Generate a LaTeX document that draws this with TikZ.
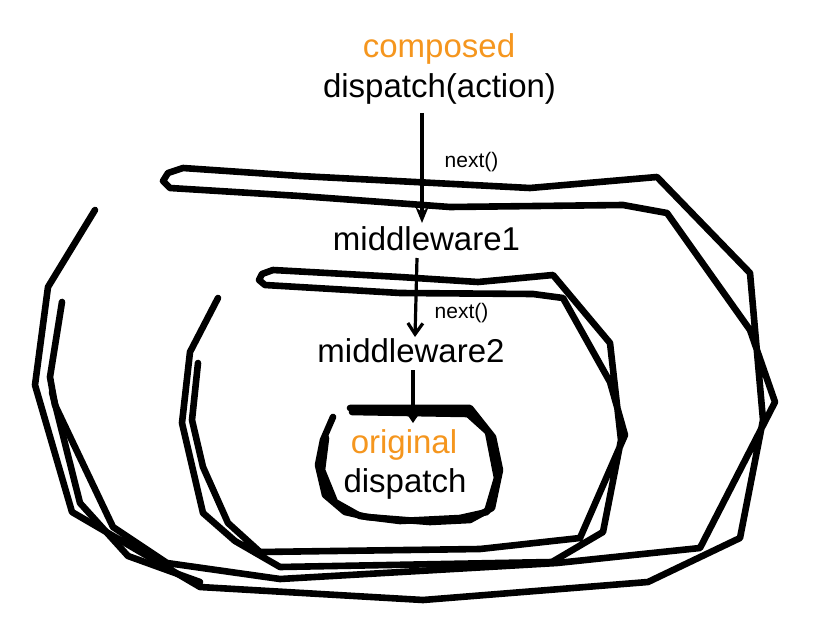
\documentclass[tikz,border=0pt]{standalone}
\usepackage{fontspec}
\setmainfont{Liberation Sans}
\usetikzlibrary{arrows.meta}
\definecolor{accent}{RGB}{245,150,30}
\begin{document}
\begin{tikzpicture}[x=1pt,y=-1pt,
  scribble/.style={line width=6.6pt,line join=round,line cap=round},
  biglabel/.style={font=\fontsize{33}{36}\selectfont,inner sep=0pt,anchor=base},
  smalllabel/.style={font=\fontsize{21}{24}\selectfont,inner sep=0pt,anchor=base},
  flow/.style={line width=3.2pt,-{Stealth[length=16pt,width=13pt]}},
  flowopen/.style={line width=3.2pt,-{Straight Barb[length=11pt,width=15pt,line width=3.2pt]}},
]
\useasboundingbox[fill=white] (0,0) rectangle (829,623);

% outer spiral
\draw[scribble] (95,210) -- (48,287) -- (35,385) -- (72,512) -- (120,540) -- (200,587)
  -- (423,600) -- (648,582) -- (740,538) -- (763,420) -- (750,273) -- (657,177)
  -- (530,188) -- (300,176) -- (183,168) -- (168,173) -- (163,181) -- (170,188)
  -- (300,196) -- (450,207) -- (623,205) -- (667,213) -- (750,330) -- (775,402)
  -- (700,548) -- (557,563) -- (280,579) -- (167,563) -- (113,527) -- (55,405)
  -- (50,377) -- (62,302);
\draw[scribble] (52,392) -- (80,503) -- (128,556) -- (200,582);

% middle spiral
\draw[scribble] (218,298) -- (190,352) -- (182,423) -- (203,513) -- (235,541)
  -- (280,567) -- (552,562) -- (603,532) -- (621,440) -- (610,343) -- (553,275)
  -- (478,282) -- (400,277) -- (273,270) -- (262,274) -- (259,280) -- (265,285)
  -- (400,293) -- (533,294) -- (563,298) -- (610,382) -- (625,435) -- (580,538)
  -- (480,549) -- (260,552) -- (228,523) -- (203,467) -- (192,420) -- (198,363);

% inner loop
\draw[scribble] (333,417) -- (323,440) -- (318,465) -- (325,495) -- (345,512)
  -- (367,517) -- (430,522) -- (470,520) -- (492,508) -- (500,470) -- (493,437)
  -- (470,408) -- (350,408);
\draw[scribble] (352,412) -- (468,414) -- (488,432) -- (497,478) -- (487,512)
  -- (460,518) -- (400,521) -- (360,516) -- (335,502) -- (322,470) -- (326,438);

% texts
\node[biglabel,text=accent] (composed) at (439,58) {composed};
\node[biglabel] (dispatchaction) at (439.5,98) {dispatch(action)};
\node[smalllabel] (next1) at (471.5,167) {next()};
\node[biglabel] (mw1) at (426.5,250) {middleware1};
\node[smalllabel] (next2) at (461.5,318) {next()};
\node[biglabel] (mw2) at (411,362) {middleware2};
\node[biglabel,text=accent] (original) at (404,453) {original};
\node[biglabel] (origdispatch) at (405,492) {dispatch};

% arrows
\coordinate (a1s) at (422,113);
\coordinate (a1e) at (422,223);
\coordinate (a2s) at (417,258);
\coordinate (a2e) at (415,337);
\coordinate (a3s) at (413,370);
\coordinate (a3e) at (413,423);
\draw[flow] (a1s) -- (a1e);
\draw[flowopen] (a2s) -- (a2e);
\draw[flowopen] (a3s) -- (a3e);
\end{tikzpicture}
\end{document}
